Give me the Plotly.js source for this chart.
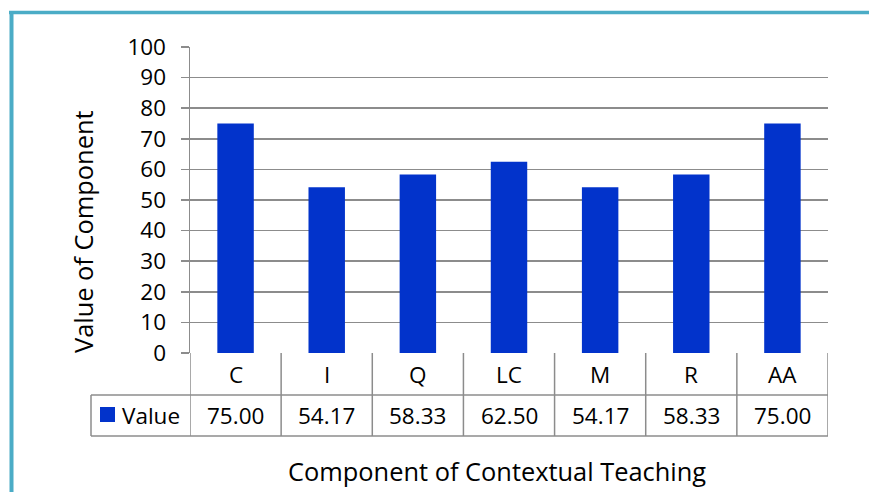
<!DOCTYPE html>
<html>
<head>
<meta charset="utf-8">
<script src="https://cdn.plot.ly/plotly-3.0.1.min.js"></script>
<style>html,body{margin:0;padding:0;background:#fff;}#chart{width:869px;height:492px;}</style>
</head>
<body>
<div id="chart"></div>
<script>
// Data
const categories = ["C", "I", "Q", "LC", "M", "R", "AA"];
const values = [75.00, 54.17, 58.33, 62.50, 54.17, 58.33, 75.00];
const seriesName = "Value";
const yTicks = [0, 10, 20, 30, 40, 50, 60, 70, 80, 90, 100];

// Layout geometry (pixels)
const W = 869, H = 492;
const L = 190, R = 828, T = 47, B = 353;
const pw = R - L, ph = B - T;
const px = x => (x - L) / pw;
const py = y => (B - y) / ph;

const FONT = "'Open Sans', Lato, sans-serif";
const FS = 22.5;
const TFS = 25.4;
const gridCol = "#8c8c8c";
const barCol = "#0233CB";
const teal = "#4BACC6";

const shapes = [];
const annotations = [];
function hline(x0, x1, y, xref) {
  shapes.push({type: "line", xref: xref || "paper", yref: "paper", x0: x0, x1: x1, y0: py(y), y1: py(y),
    line: {color: gridCol, width: 1.5}});
}
function vline(x, y0, y1, xref) {
  shapes.push({type: "line", xref: xref || "paper", yref: "paper", x0: x, x1: x, y0: py(y0), y1: py(y1),
    line: {color: gridCol, width: 1.5}});
}
// table rows
hline(px(91), px(828), 395);
hline(px(91), px(828), 436);
vline(px(91), 395, 436);
for (let i = 0; i <= categories.length; i++) {
  vline(i - 0.5, 353, 436, "x");
}
categories.forEach((c, i) => {
  annotations.push({x: i, xref: "x", y: py(374), yref: "paper", text: c, showarrow: false,
    font: {family: FONT, size: FS, color: "#000"}, xanchor: "center", yanchor: "middle"});
  annotations.push({x: i, xref: "x", y: py(415), yref: "paper", text: values[i].toFixed(2), showarrow: false,
    font: {family: FONT, size: FS, color: "#000"}, xanchor: "center", yanchor: "middle"});
});
// legend key
shapes.push({type: "rect", xref: "paper", yref: "paper", x0: px(100), x1: px(115), y0: py(407), y1: py(422),
  fillcolor: barCol, line: {width: 0}});
annotations.push({x: px(120), xref: "paper", y: py(415), yref: "paper", text: seriesName, showarrow: false,
  font: {family: FONT, size: FS, color: "#000"}, xanchor: "left", yanchor: "middle"});
// axis titles
annotations.push({x: px(83), xref: "paper", y: py(232), yref: "paper", text: "Value of Component", showarrow: false,
  textangle: -90, font: {family: FONT, size: TFS, color: "#000"}, xanchor: "center", yanchor: "middle"});
annotations.push({x: px(497), xref: "paper", y: py(471), yref: "paper", text: "Component of Contextual Teaching", showarrow: false,
  font: {family: FONT, size: TFS, color: "#000"}, xanchor: "center", yanchor: "middle"});
// teal frame
shapes.push({type: "line", xref: "paper", yref: "paper", x0: px(9), x1: px(875), y0: py(12.5), y1: py(12.5),
  line: {color: teal, width: 3.5}});
shapes.push({type: "line", xref: "paper", yref: "paper", x0: px(11.5), x1: px(11.5), y0: py(11), y1: py(500),
  line: {color: teal, width: 4}});

const data = [{
  type: "bar", x: categories, y: values, name: seriesName,
  marker: {color: barCol}, hoverinfo: "x+y"
}];

const layout = {
  width: W, height: H,
  margin: {l: L, r: W - R, t: T, b: H - B, pad: 0},
  paper_bgcolor: "#fff", plot_bgcolor: "#fff",
  showlegend: false,
  bargap: 0.6,
  xaxis: {type: "category", showticklabels: false, ticks: "", showgrid: false, zeroline: false,
    showline: false, range: [-0.5, categories.length - 0.5], fixedrange: true},
  yaxis: {range: [0, 100], tickvals: yTicks, ticktext: yTicks.map(String),
    showgrid: true, gridcolor: gridCol, gridwidth: 1.5,
    showline: true, linecolor: gridCol, linewidth: 1.5,
    ticks: "outside", ticklen: 8, tickcolor: gridCol, tickwidth: 1.5,
    zeroline: false, ticklabelstandoff: 10,
    tickfont: {family: FONT, size: FS, color: "#000"}, fixedrange: true},
  shapes: shapes,
  annotations: annotations
};
Plotly.newPlot("chart", data, layout, {displayModeBar: false, staticPlot: true});
</script>
</body>
</html>
